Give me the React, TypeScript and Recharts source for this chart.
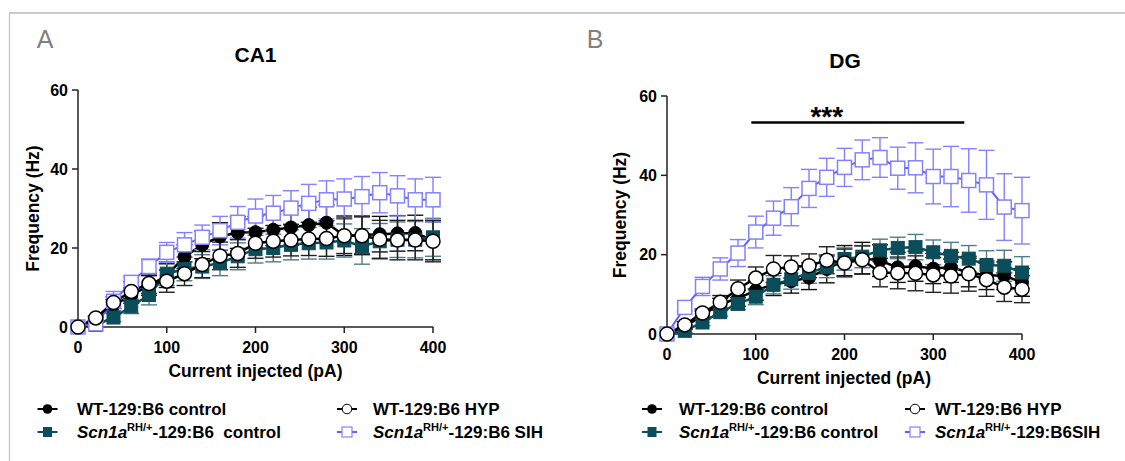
import React from 'react';
import { LineChart, Line, XAxis, YAxis, ErrorBar, ReferenceLine, ReferenceDot } from 'recharts';

// x values (pA)
const currents = [0, 20, 40, 60, 80, 100, 120, 140, 160, 180, 200, 220, 240, 260, 280, 300, 320, 340, 360, 380, 400];
const xTicks = [0, 100, 200, 300, 400];
const yTicks = [0, 20, 40, 60];

// Panel A — CA1
const ca1WtControl = [0, 2, 5.5, 8, 10.5, 13, 17.8, 20.8, 22.9, 23.9, 24, 24.6, 25.2, 25.8, 26.4, 23.1, 23.3, 23.5, 23.7, 23.8, 22];
const ca1WtControlErr = [0, 0.5, 1.5, 2, 2.5, 3, 3, 3.5, 3.5, 4, 4, 4, 4.5, 4.5, 4.5, 5, 4.8, 4.5, 4.5, 4.5, 5];
const ca1WtHyp = [0, 2.3, 6.2, 9, 11, 11.6, 13.5, 15.8, 18, 18.6, 21.2, 21.7, 22, 22.3, 22.4, 23.1, 23.1, 22.2, 22, 22, 21.7];
const ca1WtHypErr = [0, 0.5, 1.5, 2.5, 2.5, 2.8, 3, 3.3, 3.5, 3.5, 3.8, 4, 4, 4.2, 4.5, 4.5, 4.8, 4.8, 5, 5, 5.2];
const ca1ScnControl = [0, 0.5, 2.4, 5.2, 8.1, 13.5, 14.7, 15.3, 16.2, 17.9, 19.7, 20, 20.8, 21.2, 21.4, 21.9, 20.4, 21.7, 22.1, 22.1, 22.7];
const ca1ScnControlErr = [0, 0.5, 1, 1.8, 2.5, 3, 3, 3, 3.2, 3.4, 3.5, 3.5, 3.8, 4, 4.2, 4.2, 4.5, 4.5, 4.5, 4.6, 4.8];
const ca1ScnSih = [0, 0.8, 6.5, 11.3, 15.3, 18.9, 20.8, 22.7, 24.4, 26.5, 28.1, 28.8, 30.1, 31.3, 32.2, 32.4, 33, 34, 33.2, 32.2, 32.2];
const ca1ScnSihErr = [0, 0.8, 2.5, 1.5, 1.9, 2.5, 3.1, 3.1, 3.6, 4, 4.3, 4.5, 4.4, 4.8, 4.8, 5.1, 5.1, 5.1, 5.1, 5.3, 5.7];

// Panel B — DG
const dgWtControl = [0, 1.7, 4.8, 7.5, 9, 11, 12.5, 13.3, 14.2, 16.4, 18.5, 19.1, 18.5, 16.8, 17.1, 16.5, 16.8, 15.5, 14.8, 14.7, 13];
const dgWtControlErr = [0, 0.6, 1, 1.5, 2, 2.5, 2.8, 3, 3, 3.5, 3.8, 4, 4, 3.8, 3.8, 3.8, 3.8, 3.6, 3.6, 3.5, 3.5];
const dgWtHyp = [0, 2.3, 5.3, 8, 11.4, 14.1, 16.4, 16.9, 17.2, 18.6, 17.9, 18.7, 15.5, 15.4, 15.3, 14.9, 14.6, 15.2, 13.7, 11.8, 11.3];
const dgWtHypErr = [0, 0.8, 1, 1.7, 2.2, 2.8, 3.4, 2.8, 3, 3.4, 3.5, 3.5, 3.6, 4, 4.4, 4.4, 4.3, 4.4, 4.2, 3.6, 3.4];
const dgScnControl = [0, 0.8, 2.9, 5.5, 7.6, 9.4, 12.4, 13.8, 15.4, 16.9, 18.9, 19.5, 21.1, 21.7, 21.9, 20.6, 19.7, 19, 17.4, 17.2, 15.5];
const dgScnControlErr = [0, 0.5, 0.8, 1, 1.5, 2, 2.3, 2.5, 2.6, 2.7, 2.8, 2.8, 2.8, 2.7, 3.2, 3.1, 3.4, 3.3, 3.6, 3.9, 4];
const dgScnSih = [0, 6.7, 12, 16.4, 20.4, 25.7, 29.2, 32.1, 36.7, 39.5, 42, 43.9, 44.5, 41.8, 41.9, 39.7, 39.7, 38.7, 37.6, 32, 31.1];
const dgScnSihErr = [0, 1, 2.3, 2.8, 3.4, 4, 4.3, 4.8, 4.8, 4.8, 4.8, 5, 5, 5.3, 6.3, 6.9, 7.6, 8, 8.7, 8.4, 8.4];

// significance bar (DG)
const sigStart = 95;
const sigEnd = 335;
const sigLevel = 53.3;
const sigLabelX = 180;
const sigLabelY = 55;
const sigLabel = '***';

const build = (
  wt: number[], wtE: number[], hyp: number[], hypE: number[],
  scn: number[], scnE: number[], sih: number[], sihE: number[]
) =>
  currents.map((c, i) => ({
    current: c,
    wt: wt[i], wtErr: wtE[i],
    hyp: hyp[i], hypErr: hypE[i],
    scn: scn[i], scnErr: scnE[i],
    sih: sih[i], sihErr: sihE[i],
  }));

const ca1Data = build(ca1WtControl, ca1WtControlErr, ca1WtHyp, ca1WtHypErr, ca1ScnControl, ca1ScnControlErr, ca1ScnSih, ca1ScnSihErr);
const dgData = build(dgWtControl, dgWtControlErr, dgWtHyp, dgWtHypErr, dgScnControl, dgScnControlErr, dgScnSih, dgScnSihErr);

const FONT = '"Liberation Sans", Arial, Helvetica, sans-serif';
const TEAL = '#0b4d5a';
const BLUE_LINE = '#5f5fff';
const BLUE_MARK = '#8282ff';

const squareDot = (size: number, fill: string, stroke: string, sw: number) => (props: any) => {
  const { cx, cy, index } = props;
  if (cx == null || cy == null) return <g key={`e${index}`} />;
  return (
    <rect key={`sq${index}`} x={cx - size / 2} y={cy - size / 2} width={size} height={size}
      fill={fill} stroke={stroke} strokeWidth={sw} />
  );
};

const tickStyle = { fill: '#000', fontSize: 16, fontWeight: 'bold' as const, fontFamily: FONT };
const axisStroke = { stroke: '#222', strokeWidth: 1.5 };

function Panel(props: { data: any[]; left: number; width: number; margin: any; sig?: boolean }) {
  const { data, left, width, margin, sig } = props;
  return (
    <div style={{ position: 'absolute', left, top: 0 }}>
      <LineChart width={width} height={461} data={data} margin={margin}>
        <XAxis type="number" dataKey="current" domain={[0, 400]} ticks={xTicks} interval={0}
          tickSize={6} tickMargin={9} height={30} tick={tickStyle} axisLine={axisStroke} tickLine={axisStroke} />
        <YAxis type="number" domain={[0, 60]} ticks={yTicks} interval={0} width={40}
          tickSize={6} tickMargin={4} tick={tickStyle} axisLine={axisStroke} tickLine={axisStroke} />
        <Line dataKey="wt" stroke="#000" strokeWidth={2.5} isAnimationActive={false}
          dot={{ r: 6.5, fill: '#000', stroke: '#000', strokeWidth: 1 }}>
          <ErrorBar dataKey="wtErr" width={8} stroke="#111" strokeWidth={1.4} direction="y" />
        </Line>
        <Line dataKey="scn" stroke={TEAL} strokeWidth={2.5} isAnimationActive={false}
          dot={squareDot(13, TEAL, TEAL, 1)}>
          <ErrorBar dataKey="scnErr" width={8} stroke="#4f7d86" strokeWidth={1.4} direction="y" />
        </Line>
        <Line dataKey="sih" stroke={BLUE_LINE} strokeWidth={2} isAnimationActive={false}
          dot={squareDot(14, '#fff', BLUE_MARK, 1.5)}>
          <ErrorBar dataKey="sihErr" width={8} stroke={BLUE_MARK} strokeWidth={1.4} direction="y" />
        </Line>
        <Line dataKey="hyp" stroke="#000" strokeWidth={2.5} isAnimationActive={false}
          dot={{ r: 7, fill: '#fff', stroke: '#000', strokeWidth: 1.5 }}>
          <ErrorBar dataKey="hypErr" width={8} stroke="#222" strokeWidth={1.4} direction="y" />
        </Line>
        {sig && (
          <ReferenceLine segment={[{ x: sigStart, y: sigLevel }, { x: sigEnd, y: sigLevel }]}
            stroke="#000" strokeWidth={2.5} ifOverflow="visible" />
        )}
        {sig && (
          <ReferenceDot x={sigLabelX} y={sigLabelY} r={0} fill="none" stroke="none" ifOverflow="visible"
            label={{ value: sigLabel, position: 'center', fill: '#000', fontSize: 28, fontWeight: 'bold', fontFamily: FONT }} />
        )}
      </LineChart>
    </div>
  );
}

function LegendSym(props: { x: number; y: number; kind: 'fc' | 'oc' | 'fs' | 'os' }) {
  const { x, y, kind } = props;
  const lineColor = kind === 'fs' ? TEAL : kind === 'os' ? BLUE_LINE : '#000';
  return (
    <g>
      <line x1={x - 10} y1={y} x2={x + 10} y2={y} stroke={lineColor} strokeWidth={2} />
      {kind === 'fc' && <circle cx={x} cy={y} r={4.8} fill="#000" />}
      {kind === 'oc' && <circle cx={x} cy={y} r={4.8} fill="#fff" stroke="#000" strokeWidth={1} />}
      {kind === 'fs' && <rect x={x - 4.5} y={y - 5} width={9} height={10} fill={TEAL} />}
      {kind === 'os' && <rect x={x - 5} y={y - 5} width={10} height={10} fill="#fff" stroke={BLUE_MARK} strokeWidth={1.2} />}
    </g>
  );
}

function ScnLabel(props: { x: number; y: number; rest: string }) {
  const { x, y, rest } = props;
  return (
    <text x={x} y={y} fontFamily={FONT} fontSize={17} fontWeight="bold" fill="#000" xmlSpace="preserve">
      <tspan fontStyle="italic">Scn1a</tspan>
      <tspan fontSize={11} dy={-7}>RH/+</tspan>
      <tspan dy={7} style={{ whiteSpace: 'pre' }}>{rest}</tspan>
    </text>
  );
}

export default function App() {
  const legText = { fontFamily: FONT, fontSize: 17, fontWeight: 'bold' as const, fill: '#000' };
  const axisTitle = { fontFamily: FONT, fontSize: 17.5, fontWeight: 'bold' as const, fill: '#000' };
  const panelTitle = { fontFamily: FONT, fontSize: 21, fontWeight: 'bold' as const, fill: '#000' };
  return (
    <div style={{ position: 'absolute', left: 0, top: 0, width: 1125, height: 461, background: '#fff', overflow: 'hidden' }}>
      <Panel data={ca1Data} left={0} width={560} margin={{ top: 90, right: 127, bottom: 104, left: 38 }} />
      <Panel data={dgData} left={560} width={565} margin={{ top: 96, right: 103, bottom: 97, left: 67 }} sig />
      <svg width={1125} height={461} style={{ position: 'absolute', left: 0, top: 0, pointerEvents: 'none' }}>
        {/* frame */}
        <line x1={9} y1={13} x2={1125} y2={13} stroke="#cbcbcb" strokeWidth={2} />
        <line x1={9.5} y1={13} x2={9.5} y2={461} stroke="#c4c4c4" strokeWidth={1.2} />
        {/* panel letters */}
        <text x={45} y={48} textAnchor="middle" fontFamily={FONT} fontSize={25} fill="#808080">A</text>
        <text x={595} y={48} textAnchor="middle" fontFamily={FONT} fontSize={25} fill="#808080">B</text>
        {/* titles */}
        <text x={255.5} y={62} textAnchor="middle" {...panelTitle}>CA1</text>
        <text x={845} y={68} textAnchor="middle" {...panelTitle}>DG</text>
        {/* axis titles */}
        <text x={255.5} y={377} textAnchor="middle" {...axisTitle}>Current injected (pA)</text>
        <text x={844} y={384} textAnchor="middle" {...axisTitle}>Current injected (pA)</text>
        <text transform="translate(38.5,208.5) rotate(-90)" textAnchor="middle" {...axisTitle}>Frequency (Hz)</text>
        <text transform="translate(625.5,215) rotate(-90)" textAnchor="middle" {...axisTitle}>Frequency (Hz)</text>
        {/* legend A */}
        <LegendSym x={47.5} y={409} kind="fc" />
        <text x={77} y={415} {...legText}>WT-129:B6 control</text>
        <LegendSym x={347} y={409} kind="oc" />
        <text x={373} y={415} {...legText}>WT-129:B6 HYP</text>
        <LegendSym x={47.5} y={432} kind="fs" />
        <ScnLabel x={77} y={438} rest={'-129:B6\u00a0 control'} />
        <LegendSym x={347} y={432} kind="os" />
        <ScnLabel x={373} y={438} rest={'-129:B6 SIH'} />
        {/* legend B */}
        <LegendSym x={652} y={409} kind="fc" />
        <text x={679} y={415} {...legText}>WT-129:B6 control</text>
        <LegendSym x={915} y={409} kind="oc" />
        <text x={935} y={415} {...legText}>WT-129:B6 HYP</text>
        <LegendSym x={652} y={432} kind="fs" />
        <ScnLabel x={679} y={438} rest={'-129:B6 control'} />
        <LegendSym x={915} y={432} kind="os" />
        <ScnLabel x={935} y={438} rest={'-129:B6SIH'} />
      </svg>
    </div>
  );
}
